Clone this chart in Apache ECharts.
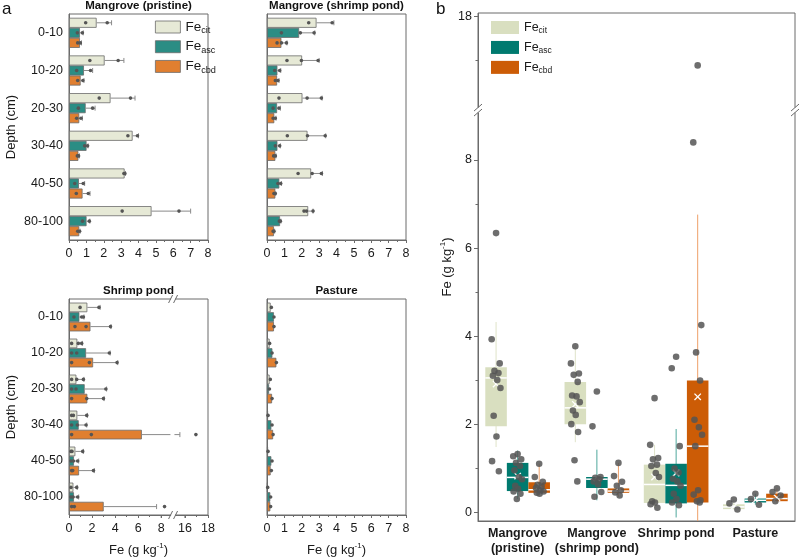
<!DOCTYPE html>
<html><head><meta charset="utf-8">
<script src="https://cdn.jsdelivr.net/npm/echarts@6/dist/echarts.min.js"></script>
<style>html,body{margin:0;padding:0;background:#fff}#c{width:799px;height:558px}</style>
</head><body><div id="c"></div><script>
// ---------------- DATA ----------------
const depths = ['0-10', '10-20', '20-30', '30-40', '40-50', '80-100'];
const fracs = ['cit', 'asc', 'cbd'];
const siteTitles = ['Mangrove (pristine)', 'Mangrove (shrimp pond)', 'Shrimp pond', 'Pasture'];

// Panel a: Mangrove (pristine)
const prCitMean = [1.59, 2.05, 2.39, 3.66, 3.20, 4.75];
const prCitErr  = [2.45, 3.16, 3.80, 4.00, 3.25, 7.00];
const prCitPts  = [[0.96, 2.2], [1.2, 2.83], [1.74, 3.54], [3.39, 3.94], [3.16, 3.22], [3.06, 6.33]];
const prAscMean = [0.63, 0.86, 0.96, 1.01, 0.57, 1.01];
const prAscErr  = [0.82, 1.36, 1.50, 1.10, 0.90, 1.20];
const prAscPts  = [[0.48, 0.77], [0.44, 1.24], [0.54, 1.36], [0.9, 1.07], [0.33, 0.82], [0.78, 1.17]];
const prCbdMean = [0.63, 0.67, 0.59, 0.54, 0.78, 0.59];
const prCbdErr  = [0.72, 0.86, 0.77, 0.60, 1.21, 0.64];
const prCbdPts  = [[0.5, 0.65], [0.5, 0.8], [0.44, 0.69], [0.48, 0.55], [0.42, 1.11], [0.5, 0.61]];

// Panel a: Mangrove (shrimp pond)
const msCitMean = [2.85, 2.02, 2.04, 2.33, 2.54, 2.37];
const msCitErr  = [3.85, 3.00, 3.17, 3.38, 3.19, 2.65];
const msCitPts  = [[2.4, 3.75], [1.15, 1.98, 2.94], [0.69, 2.31, 3.13], [1.17, 2.33, 3.35], [1.79, 2.6, 3.13], [2.13, 2.27, 2.65]];
const msAscMean = [1.85, 0.60, 0.58, 0.60, 0.71, 0.75];
const msAscErr  = [2.75, 0.79, 0.77, 0.77, 0.83, 0.80];
const msAscPts  = [[0.83, 1.92, 2.71], [0.44, 0.73], [0.35, 0.69], [0.48, 0.73], [0.63, 0.79], [0.71, 0.77]];
const msCbdMean = [0.83, 0.58, 0.42, 0.48, 0.48, 0.40];
const msCbdErr  = [1.15, 0.69, 0.52, 0.52, 0.50, 0.44];
const msCbdPts  = [[0.58, 0.83, 1.12], [0.48, 0.63], [0.35, 0.48], [0.38, 0.48], [0.4, 0.48], [0.35, 0.4]];

// Panel a: Shrimp pond
const spCitMean = [1.59, 0.72, 0.64, 0.72, 0.55, 0.38];
const spCitErr  = [2.70, 1.16, 1.30, 1.60, 1.25, 0.72];
const spCitPts  = [[0.96, 2.6], [0.23, 0.81, 1.1], [0.23, 0.67, 1.25], [0.23, 0.38, 1.54], [0.17, 0.26, 1.19], [0.17, 0.67]];
const spAscMean = [0.90, 1.48, 1.36, 0.84, 0.43, 0.43];
const spAscErr  = [1.30, 3.57, 3.26, 1.54, 0.84, 0.84];
const spAscPts  = [[0.43, 1.1, 1.25], [0.23, 0.67, 3.5], [0.23, 0.61, 3.2], [0.23, 0.72, 1.48], [0.17, 0.38, 0.75], [0.17, 0.35, 0.75]];
const spCbdMean = [1.86, 2.09, 1.59, 6.32, 0.87, 3.01];
const spCbdErr  = [3.65, 4.23, 3.05, 15.56, 2.20, 7.60];
const spCbdPts  = [[0.52, 1.48, 3.6], [0.23, 1.77, 4.17], [0.23, 1.54, 2.99], [0.23, 1.94, 16.95], [0.23, 0.32, 2.12], [0.23, 0.46, 8.29]];
const spTicks = [0, 2, 4, 6, 8, 16, 18];
const spMinorTicks = [1, 3, 5, 7, 17];
const spEdgeLabels = [8, 16]; // labels next to the break

// Panel a: Pasture (no error bars)
const paCitMean = [0.21, 0.15, 0.15, 0.06, 0.06, 0.04];
const paCitPts  = [[0.25], [0.15], [0.19], [0.06], [0.06], [0.04]];
const paAscMean = [0.40, 0.31, 0.12, 0.25, 0.25, 0.19];
const paAscPts  = [[0.4], [0.29], [0.14], [0.29], [0.29], [0.21]];
const paCbdMean = [0.40, 0.54, 0.29, 0.35, 0.21, 0.19];
const paCbdPts  = [[0.4], [0.54], [0.29], [0.35], [0.25], [0.21]];

// Panel b: box statistics per group
const groups = ['Mangrove\n(pristine)', 'Mangrove\n(shrimp pond)', 'Shrimp pond', 'Pasture'];
const citQ1 = [1.95, 2.00, 0.21, 0.07], citMed = [3.05, 2.37, 0.63, 0.12], citQ3 = [3.29, 2.96, 1.08, 0.18];
const citLo = [1.48, 1.59, 0.10, 0.06], citHi = [4.32, 3.77, 1.53, 0.29], citMean = [2.91, 2.45, 0.80, 0.13];
const ascQ1 = [0.48, 0.55, 0.20, 0.22], ascMed = [0.79, 0.75, 0.61, 0.27], ascQ3 = [1.12, 0.80, 1.10, 0.31];
const ascLo = [0.30, 0.27, -0.12, 0.17], ascHi = [1.40, 1.42, 1.89, 0.42], ascMean = [0.82, 0.78, 0.89, 0.28];
const cbdQ1 = [0.44, 0.44, 0.22, 0.25], cbdMed = [0.51, 0.48, 1.50, 0.31], cbdQ3 = [0.68, 0.54, 2.99, 0.42];
const cbdLo = [0.38, 0.35, -0.60, 0.21], cbdHi = [1.10, 1.12, 6.76, 0.54], cbdMean = [0.61, 0.55, 2.62, 0.33];
const citPts = [
  [6.34, 3.93, 3.38, 3.21, 3.16, 3.10, 3.00, 2.82, 2.19, 1.72, 1.16, 0.93],
  [3.77, 3.38, 3.15, 3.12, 2.96, 2.65, 2.63, 2.50, 2.31, 2.21, 2.00, 1.82, 1.18, 0.70],
  [2.59, 1.53, 1.23, 1.20, 1.08, 1.05, 0.89, 0.80, 0.25, 0.22, 0.18, 0.10],
  [0.29, 0.20, 0.06]];
const ascPts = [
  [1.32, 1.27, 1.20, 1.12, 1.05, 0.95, 0.80, 0.75, 0.60, 0.53, 0.47, 0.42, 0.30],
  [2.74, 1.95, 0.80, 0.78, 0.75, 0.70, 0.63, 0.46, 0.35],
  [3.53, 3.27, 1.50, 0.99, 0.90, 0.76, 0.70, 0.60, 0.42, 0.30, 0.22, 0.16],
  [0.42, 0.30, 0.17]];
const cbdPts = [
  [1.10, 0.80, 0.69, 0.62, 0.58, 0.55, 0.50, 0.47, 0.44, 0.42],
  [1.12, 0.82, 0.69, 0.60, 0.50, 0.45, 0.38],
  [16.88, 8.40, 4.25, 3.63, 2.99, 2.10, 1.93, 1.76, 1.50, 0.50, 0.40, 0.27, 0.25, 0.22],
  [0.54, 0.46, 0.38, 0.25]];
const bTicks = [0, 2, 4, 6, 8, 18];
const bMinorTicks = [1, 3, 5, 7, 17];

// ---------------- STYLE / LAYOUT ----------------
const FONT = "'Liberation Sans', Arial, sans-serif";
const FC = '#6b6b6b';
const colA = { cit: '#e6e9d6', asc: '#2b8d84', cbd: '#e07f30' };
const colB = { cit: '#d9dfc0', asc: '#007a6f', cbd: '#cc5c06' };
const whB = { cit: '#dfe3c9', asc: '#4fa79c', cbd: '#eea06a' };
const gridsA = [
  { left: 69, top: 14, width: 139, height: 226 },
  { left: 267, top: 14, width: 139, height: 226 },
  { left: 69, top: 299, width: 139, height: 216 },
  { left: 267, top: 299, width: 139, height: 216 }];
const gridB = { left: 478, top: 13, width: 317, height: 508 };
const spBreak = { start: 9, end: 15, gap: '0.5%' };
const bBreaks = [{ start: 9.1, end: 15.9, gap: '0.6%' }];
const LBL_MARGIN = 7;

const sitesA = [
  { mean: [prCitMean, prAscMean, prCbdMean], err: [prCitErr, prAscErr, prCbdErr], pts: [prCitPts, prAscPts, prCbdPts] },
  { mean: [msCitMean, msAscMean, msCbdMean], err: [msCitErr, msAscErr, msCbdErr], pts: [msCitPts, msAscPts, msCbdPts] },
  { mean: [spCitMean, spAscMean, spCbdMean], err: [spCitErr, spAscErr, spCbdErr], pts: [spCitPts, spAscPts, spCbdPts] },
  { mean: [paCitMean, paAscMean, paCbdMean], err: [null, null, null], pts: [paCitPts, paAscPts, paCbdPts] }];
const boxB = [
  { q1: citQ1, med: citMed, q3: citQ3, lo: citLo, hi: citHi, mean: citMean, pts: citPts },
  { q1: ascQ1, med: ascMed, q3: ascQ3, lo: ascLo, hi: ascHi, mean: ascMean, pts: ascPts },
  { q1: cbdQ1, med: cbdMed, q3: cbdQ3, lo: cbdLo, hi: cbdHi, mean: cbdMean, pts: cbdPts }];

const feName = '{a|Fe (g kg}{s|-1}{a|)}';
const feRich = { a: { fontSize: 13, fontFamily: FONT, color: '#1a1a1a' }, s: { fontSize: 8, fontFamily: FONT, color: '#1a1a1a', padding: [0, 0, 8, 0] } };
const lblStyle = { fontSize: 12.5, fontFamily: FONT, color: '#1a1a1a' };

const xAxes = [], yAxes = [], series = [];
gridsA.forEach((g, i) => {
  const isSP = i === 2;
  const ax = {
    type: 'value', gridIndex: i, min: 0, max: isSP ? 18 : 8, interval: isSP ? 2 : 1, position: 'bottom',
    axisLine: { show: true, onZero: false, lineStyle: { color: FC } },
    axisTick: { show: true, length: 3, lineStyle: { color: FC } },
    minorTick: { show: !isSP, splitNumber: 2, length: 2, lineStyle: { color: FC } },
    splitLine: { show: false }, minorSplitLine: { show: false },
    axisLabel: Object.assign({ margin: LBL_MARGIN }, lblStyle),
    name: i >= 2 ? feName : '', nameLocation: 'middle', nameGap: 27,
    nameTextStyle: { rich: feRich }
  };
  if (isSP) {
    ax.breaks = [spBreak];
    ax.breakArea = { show: false };
    ax.axisTick.customValues = spTicks;
    ax.axisLabel.customValues = spTicks.filter(v => spEdgeLabels.indexOf(v) < 0);
  }
  xAxes.push(ax);
  yAxes.push({
    type: 'category', gridIndex: i, data: depths, inverse: true,
    axisLine: { show: true, onZero: false, lineStyle: { color: FC } }, axisTick: { show: false },
    axisLabel: Object.assign({ show: i % 2 === 0, margin: 6 }, lblStyle),
    name: i % 2 === 0 ? 'Depth (cm)' : '', nameLocation: 'middle', nameGap: 51,
    nameTextStyle: { fontSize: 13, fontFamily: FONT, color: '#1a1a1a' }
  });
  const s = sitesA[i];
  fracs.forEach((f, k) => {
    series.push({
      type: 'bar', name: 'a_' + f, xAxisIndex: i, yAxisIndex: i, data: s.mean[k],
      barGap: '0%', barCategoryGap: '20%', silent: true,
      itemStyle: { color: colA[f], borderColor: FC, borderWidth: 0.8 }, z: 2
    });
    if (s.err[k]) {
      series.push({
        type: 'custom', xAxisIndex: i, yAxisIndex: i, silent: true, z: 3,
        data: s.mean[k].map((m, j) => [m, j, s.err[k][j]]), encode: { x: 0, y: 1 },
        renderItem: (params, api) => {
          const m = api.value(0), c = api.value(1), hi = api.value(2);
          const band = api.size([0, 1])[1], bw = band * 0.8 / 3, off = (k - 1) * bw;
          const p0 = api.coord([m, c]), p1 = api.coord([hi, c]);
          const y = p0[1] + off;
          const st = { stroke: '#8a8a8a', lineWidth: 1 };
          const kids = [];
          if (isSP && m < spBreak.start && hi > spBreak.end) {
            const pa = api.coord([spBreak.start - 0.2, c]), pb = api.coord([spBreak.end, c]);
            kids.push({ type: 'line', shape: { x1: p0[0], y1: y, x2: pa[0], y2: y }, style: st });
            kids.push({ type: 'line', shape: { x1: pb[0] + 1, y1: y, x2: p1[0], y2: y }, style: st });
          } else {
            kids.push({ type: 'line', shape: { x1: p0[0], y1: y, x2: p1[0], y2: y }, style: st });
          }
          kids.push({ type: 'line', shape: { x1: p1[0], y1: y - 2.5, x2: p1[0], y2: y + 2.5 }, style: st });
          return { type: 'group', children: kids };
        }
      });
    }
    const pd = [];
    s.pts[k].forEach((arr, j) => arr.forEach(v => pd.push([v, j])));
    series.push({
      type: 'custom', xAxisIndex: i, yAxisIndex: i, silent: true, z: 4,
      data: pd, encode: { x: 0, y: 1 },
      renderItem: (params, api) => {
        const band = api.size([0, 1])[1], bw = band * 0.8 / 3;
        const p = api.coord([api.value(0), api.value(1)]);
        return { type: 'circle', shape: { cx: p[0], cy: p[1] + (k - 1) * bw, r: 1.8 }, style: { fill: '#555' } };
      }
    });
  });
});

// Panel b axes (xAxis 4, yAxis 4 & 5)
xAxes.push({
  type: 'category', gridIndex: 4, data: groups, position: 'bottom',
  axisLine: { show: true, onZero: false, lineStyle: { color: FC } }, axisTick: { show: false },
  axisLabel: { fontSize: 12.5, fontWeight: 'bold', fontFamily: FONT, color: '#1a1a1a', lineHeight: 15, margin: 5, interval: 0 }
});
// extra xAxis 5: minor ticks of the broken Shrimp-pond axis
xAxes.push({
  type: 'value', gridIndex: 2, min: 0, max: 18, position: 'bottom',
  breaks: [spBreak], breakArea: { show: false },
  axisLine: { show: false, onZero: false },
  axisTick: { show: true, length: 2, customValues: spMinorTicks, lineStyle: { color: FC } },
  axisLabel: { show: false }, splitLine: { show: false }
});
yAxes.push({
  type: 'value', gridIndex: 4, min: -0.2, max: 18.07, position: 'left',
  breaks: bBreaks, breakArea: { show: false },
  axisLine: { show: true, onZero: false, lineStyle: { color: FC } },
  axisTick: { show: true, length: 4, customValues: bTicks, lineStyle: { color: FC } },
  axisLabel: Object.assign({ customValues: bTicks, margin: 6 }, lblStyle),
  splitLine: { show: false },
  name: feName, nameLocation: 'middle', nameGap: 23, nameTextStyle: { rich: feRich }
});
yAxes.push({
  type: 'value', gridIndex: 4, min: -0.2, max: 18.07, position: 'left',
  breaks: bBreaks, breakArea: { show: false },
  axisLine: { show: false, onZero: false },
  axisTick: { show: true, length: 2.5, customValues: bMinorTicks, lineStyle: { color: FC } },
  axisLabel: { show: false }, splitLine: { show: false }
});

const jit = [0, -0.55, 0.45, -0.2, 0.3, -0.4, 0.15, 0.55, -0.3, 0.05, -0.5, 0.35, -0.1, 0.25];
fracs.forEach((f, k) => {
  const b = boxB[k];
  series.push({
    type: 'custom', name: 'b_' + f, xAxisIndex: 4, yAxisIndex: 4, silent: true, z: 2,
    itemStyle: { color: colB[f] },
    data: groups.map((g, j) => [j, b.q1[j], b.med[j], b.q3[j], b.lo[j], b.hi[j], b.mean[j]]),
    encode: { x: 0, y: 2 },
    renderItem: (params, api) => {
      const j = api.value(0);
      const band = api.size([1, 0])[0], bw = band * 0.272;
      const cx = api.coord([j, 0])[0] + (k - 1) * bw;
      const Y = (v) => api.coord([j, v])[1];
      const cs = params.coordSys, yBot = cs.y + cs.height;
      const yq1 = Y(api.value(1)), ym = Y(api.value(2)), yq3 = Y(api.value(3));
      const ylo = Math.min(Y(api.value(4)), yBot), yhi = Y(api.value(5)), ymn = Y(api.value(6));
      const x0 = cx - bw / 2, x1 = cx + bw / 2, d = 3.2;
      return { type: 'group', children: [
        { type: 'line', shape: { x1: cx, y1: yhi, x2: cx, y2: ylo }, style: { stroke: whB[f], lineWidth: 1 } },
        { type: 'rect', shape: { x: x0, y: yq3, width: bw, height: yq1 - yq3 }, style: { fill: colB[f] } },
        { type: 'line', shape: { x1: x0, y1: ym, x2: x1, y2: ym }, style: { stroke: '#fff', lineWidth: 1.5 } },
        { type: 'line', shape: { x1: cx - d, y1: ymn - d, x2: cx + d, y2: ymn + d }, style: { stroke: '#fff', lineWidth: 1.3 } },
        { type: 'line', shape: { x1: cx - d, y1: ymn + d, x2: cx + d, y2: ymn - d }, style: { stroke: '#fff', lineWidth: 1.3 } }] };
    }
  });
  const pd = [];
  b.pts.forEach((arr, j) => arr.forEach((v, n) => pd.push([j, v, n])));
  series.push({
    type: 'custom', xAxisIndex: 4, yAxisIndex: 4, silent: true, z: 5,
    data: pd, encode: { x: 0, y: 1 },
    renderItem: (params, api) => {
      const j = api.value(0), n = api.value(2);
      const band = api.size([1, 0])[0], bw = band * 0.272;
      const p = api.coord([j, api.value(1)]);
      return { type: 'circle', shape: { cx: p[0] + (k - 1) * bw + jit[n % jit.length] * 8, cy: p[1], r: 3.3 },
        style: { fill: '#555', opacity: 0.85 } };
    }
  });
});

const legFmt = (name) => '{m|Fe}{s|' + name.split('_')[1] + '}';
const legRich = (fs) => ({ m: { fontSize: fs, fontFamily: FONT, color: '#1a1a1a' },
  s: { fontSize: fs * 0.68, fontFamily: FONT, color: '#1a1a1a', padding: [fs * 0.55, 0, 0, 0] } });

function titleGraphics() {
  const arr = siteTitles.map((t, i) => ({
    type: 'text', id: 't' + i, x: gridsA[i].left + gridsA[i].width / 2, y: gridsA[i].top - 8,
    style: { text: t, align: 'center', verticalAlign: 'middle', fontSize: 11.5, fontWeight: 'bold', fontFamily: FONT, fill: '#111' }
  }));
  arr.push({ type: 'text', id: 'la', x: 2, y: 9, style: { text: 'a', fontSize: 17, fontFamily: FONT, fill: '#111', verticalAlign: 'middle' } });
  arr.push({ type: 'text', id: 'lb', x: 436, y: 9, style: { text: 'b', fontSize: 17, fontFamily: FONT, fill: '#111', verticalAlign: 'middle' } });
  return arr;
}

const chart = echarts.init(document.getElementById('c'), null, { renderer: 'canvas' });
const option = {
  animation: false,
  backgroundColor: '#fff',
  grid: gridsA.concat([gridB]).map(g => Object.assign({ show: true, borderColor: FC, borderWidth: 1, backgroundColor: 'transparent', containLabel: false, outerBoundsMode: 'none' }, g)),
  xAxis: xAxes, yAxis: yAxes, series: series,
  legend: [
    { data: fracs.map(f => ({ name: 'a_' + f, icon: 'rect', itemStyle: { color: colA[f], borderColor: FC, borderWidth: 0.8 } })),
      orient: 'vertical', left: 150, top: 15, itemWidth: 25, itemHeight: 12, itemGap: 4.5, selectedMode: false,
      formatter: legFmt, textStyle: { rich: legRich(13.5) } },
    { data: fracs.map(f => ({ name: 'b_' + f, icon: 'rect', itemStyle: { color: colB[f], borderWidth: 0 } })),
      orient: 'vertical', left: 486, top: 16, itemWidth: 28, itemHeight: 13, itemGap: 5.5, selectedMode: false,
      formatter: legFmt, textStyle: { rich: legRich(12.5) } }],
  graphic: titleGraphics()
};
chart.setOption(option);

// axis break marks and break-edge tick labels positioned through the axes' own scales
function vBreak(id, x, y) {
  return [
    { type: 'rect', id: id + 'r', shape: { x: x - 5, y: y - 2.5, width: 10, height: 5 }, style: { fill: '#fff' }, z: 100 },
    { type: 'line', id: id + 'l1', shape: { x1: x - 4, y1: y + 1, x2: x + 4, y2: y - 6 }, style: { stroke: FC, lineWidth: 1 }, z: 101 },
    { type: 'line', id: id + 'l2', shape: { x1: x - 4, y1: y + 6, x2: x + 4, y2: y - 1 }, style: { stroke: FC, lineWidth: 1 }, z: 101 }];
}
function hBreak(id, x, y) {
  return [
    { type: 'rect', id: id + 'r', shape: { x: x - 2, y: y - 4, width: 4, height: 8 }, style: { fill: '#fff' }, z: 100 },
    { type: 'line', id: id + 'l1', shape: { x1: x - 4.5, y1: y + 4, x2: x - 0.5, y2: y - 4 }, style: { stroke: FC, lineWidth: 1 }, z: 101 },
    { type: 'line', id: id + 'l2', shape: { x1: x + 0.5, y1: y + 4, x2: x + 4.5, y2: y - 4 }, style: { stroke: FC, lineWidth: 1 }, z: 101 }];
}
const px = (v) => chart.convertToPixel({ xAxisIndex: 2 }, v);
const ybA = chart.convertToPixel({ yAxisIndex: 4 }, bBreaks[0].start);
const ybB = chart.convertToPixel({ yAxisIndex: 4 }, bBreaks[0].end);
const yb = (ybA + ybB) / 2;
const x0 = px(0), xbA = px(spBreak.start), xbB = px(spBreak.end), xMax = px(18);
const xb = (xbA + xbB) / 2;
const spBottom = gridsA[2].top + gridsA[2].height;
// position edge labels on the linear pieces either side of the break
const edgeX = (v) => v <= spBreak.start
  ? x0 + (xbA - x0) * (v / spBreak.start)
  : xbB + (xMax - xbB) * ((v - spBreak.end) / (18 - spBreak.end));
const edgeLabels = [];
spEdgeLabels.forEach((v, n) => {
  const x = edgeX(v);
  if (!isFinite(x)) return;
  edgeLabels.push({ type: 'text', id: 'el' + n, x: x, y: spBottom + LBL_MARGIN, z: 200,
    style: { text: String(v), align: 'center', verticalAlign: 'top', fill: '#1a1a1a', fontSize: 12.5, fontFamily: FONT } });
  edgeLabels.push({ type: 'line', id: 'et' + n, z: 200,
    shape: { x1: x, y1: spBottom, x2: x, y2: spBottom + 3 }, style: { stroke: FC, lineWidth: 1 } });
});
const marks = []
  .concat(vBreak('bl', gridB.left, yb))
  .concat(vBreak('br', gridB.left + gridB.width, yb))
  .concat(hBreak('st', xb, gridsA[2].top))
  .concat(hBreak('sb', xb, spBottom));
chart.setOption({ graphic: titleGraphics().concat(marks).concat(edgeLabels) });
</script></body></html>
